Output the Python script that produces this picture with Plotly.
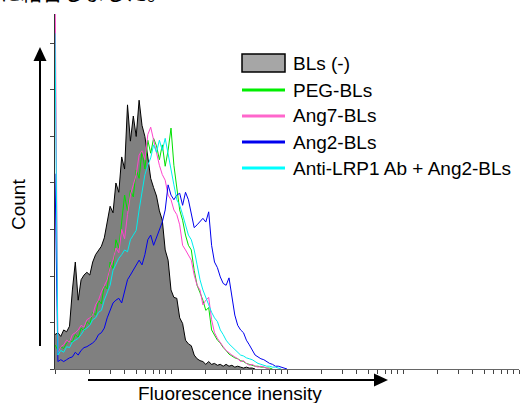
import numpy as np
import plotly.graph_objects as go

# flow cytometry histograms, 40 channels per decade on a 4-decade log scale
CHANNELS_PER_DECADE = 40

series_names = ["BLs (-)", "PEG-BLs", "Ang7-BLs", "Ang2-BLs", "Anti-LRP1 Ab + Ang2-BLs"]

bls_neg = [37, 39, 35, 42, 40, 46, 85, 115, 74, 96, 101, 104, 101, 115, 123, 128, 132, 141,
           158, 175, 168, 200, 190, 228, 215, 284, 245, 272, 250, 289, 262, 250, 228, 205,
           195, 186, 170, 160, 128, 117, 85, 77, 76, 55, 49, 31, 27, 25, 15, 11, 9, 8, 5, 8,
           5, 6, 4, 5, 3, 5, 3, 4, 2, 3, 2, 1, 2, 1, 1, 0]
peg_bls = [26, 20, 24, 22, 28, 31, 29, 37, 34, 44, 41, 51, 48, 61, 58, 74, 70, 90, 86, 115,
           108, 139, 130, 160, 187, 170, 192, 185, 214, 205, 235, 215, 246, 232, 248, 240, 225,
           241, 218, 235, 259, 219, 192, 171, 160, 144, 133, 128, 106, 90, 82, 74, 63, 66, 42,
           37, 31, 28, 23, 20, 16, 14, 12, 11, 9, 8, 6, 5, 4, 3, 3, 2, 2, 1, 1, 0]
ang7_bls = [420, 18, 24, 26, 31, 29, 37, 39, 42, 47, 45, 53, 55, 58, 69, 74, 83, 90, 96, 109,
            117, 130, 125, 150, 140, 166, 187, 198, 209, 230, 235, 225, 252, 260, 246, 235,
            219, 209, 203, 187, 182, 171, 166, 155, 133, 128, 123, 117, 101, 90, 85, 69, 74,
            77, 53, 39, 33, 28, 24, 20, 17, 15, 13, 11, 8, 9, 6, 4, 5, 3, 2, 3, 2, 1, 0]
ang2_bls = [210, 8, 10, 8, 10, 12, 13, 18, 15, 20, 23, 24, 26, 28, 31, 37, 39, 44, 55, 63, 71,
            74, 76, 71, 85, 96, 101, 106, 112, 117, 112, 123, 139, 144, 133, 141, 149, 158,
            171, 198, 187, 182, 187, 189, 176, 190, 182, 166, 152, 155, 158, 162, 158, 169,
            133, 115, 109, 99, 92, 90, 98, 77, 58, 47, 42, 39, 31, 26, 20, 15, 13, 11, 10, 8,
            6, 5, 3, 3, 2, 1, 0]
lrp1_ang2_bls = [361, 15, 20, 18, 24, 23, 29, 31, 33, 37, 42, 44, 47, 53, 55, 61, 63, 74, 83,
                 90, 106, 112, 119, 123, 128, 126, 139, 144, 149, 171, 192, 209, 219, 227, 241,
                 233, 246, 235, 248, 230, 214, 198, 182, 176, 166, 155, 144, 139, 128, 112, 96,
                 85, 76, 69, 61, 55, 51, 42, 37, 31, 27, 24, 20, 18, 15, 14, 12, 11, 10, 8, 6,
                 5, 4, 3, 3, 2, 2, 1, 0]

line_colors = ["#000000", "#00E000", "#FF44CC", "#0000EE", "#00EEEE"]
legend_colors = ["#A6A6A6", "#00EE00", "#FF66CC", "#0000EE", "#00FFFF"]

W, H = 523, 403
L, R, T, B = 55, 4, 14, 34
PW, PH = W - L - R, H - T - B
FONT = "Liberation Sans, Arial, sans-serif"


def px(x):
    return (x - L) / PW


def py(y):
    return (H - B - y) / PH


def channels(n):
    return 10 ** (np.arange(n) / CHANNELS_PER_DECADE)


fig = go.Figure()

fig.add_trace(go.Scatter(
    x=channels(len(bls_neg)), y=bls_neg, mode="lines", fill="tozeroy",
    fillcolor="#808080", line=dict(color="#000000", width=1), name=series_names[0],
))
for vals, name, col in zip([peg_bls, ang7_bls, ang2_bls, lrp1_ang2_bls], series_names[1:], line_colors[1:]):
    fig.add_trace(go.Scatter(
        x=channels(len(vals)), y=vals, mode="lines", line=dict(color=col, width=1), name=name,
    ))

shapes = []
annotations = []

# legend drawn by hand
row_y = [63, 90, 116, 142, 168]
shapes.append(dict(type="rect", xref="paper", yref="paper", x0=px(242), x1=px(285),
                   y0=py(72), y1=py(54), fillcolor=legend_colors[0],
                   line=dict(color="#000000", width=1.5)))
for yy, col in zip(row_y[1:], legend_colors[1:]):
    shapes.append(dict(type="line", xref="paper", yref="paper", x0=px(242), x1=px(285),
                       y0=py(yy), y1=py(yy), line=dict(color=col, width=3)))
for yy, name in zip(row_y, series_names):
    annotations.append(dict(xref="paper", yref="paper", x=px(291), y=py(yy), xanchor="left",
                            yanchor="middle", text=name, showarrow=False,
                            font=dict(family=FONT, size=19, color="#000000")))

# axis arrows
shapes.append(dict(type="line", xref="paper", yref="paper", x0=px(40), x1=px(40),
                   y0=py(346), y1=py(58), line=dict(color="#000000", width=2)))
shapes.append(dict(type="path", xref="paper", yref="paper",
                   path="M %f %f L %f %f L %f %f Z" % (px(40), py(47), px(33.5), py(61), px(46.5), py(61)),
                   fillcolor="#000000", line=dict(width=0)))
shapes.append(dict(type="line", xref="paper", yref="paper", x0=px(88), x1=px(376),
                   y0=py(380), y1=py(380), line=dict(color="#000000", width=2)))
shapes.append(dict(type="path", xref="paper", yref="paper",
                   path="M %f %f L %f %f L %f %f Z" % (px(388), py(380), px(374), py(373.5), px(374), py(386.5)),
                   fillcolor="#000000", line=dict(width=0)))

annotations.append(dict(xref="paper", yref="paper", x=px(19), y=py(205), xanchor="center",
                        yanchor="middle", text="Count", textangle=-90, showarrow=False,
                        font=dict(family=FONT, size=19, color="#000000")))
annotations.append(dict(xref="paper", yref="paper", x=px(230), y=py(394), xanchor="center",
                        yanchor="middle", text="Fluorescence inensity", showarrow=False,
                        font=dict(family=FONT, size=19, color="#000000")))
# caption line of the page above, cut off by the top edge as in the source
annotations.append(dict(xref="paper", yref="paper", x=px(-2), y=py(8), xanchor="left", yanchor="bottom",
                        text="に結合しました。", showarrow=False,
                        font=dict(family="Noto Sans CJK JP", size=21, color="#000000")))

fig.update_layout(
    width=W, height=H,
    margin=dict(l=L, r=R, t=T, b=B),
    paper_bgcolor="white", plot_bgcolor="white",
    showlegend=False,
    shapes=shapes, annotations=annotations,
    xaxis=dict(type="log", range=[0, 4], dtick="D1", showticklabels=False, ticks="outside",
               ticklen=4, tickcolor="#444444", showline=True, linecolor="#666666", linewidth=1,
               showgrid=False, zeroline=False, layer="below traces"),
    yaxis=dict(range=[0, 381.7], dtick=50, showticklabels=False, ticks="outside", ticklen=4,
               tickcolor="#444444", showline=True, linecolor="#333333", linewidth=1,
               showgrid=False, zeroline=False, layer="below traces"),
)

fig.write_html("out.html", config={"displayModeBar": False},
               post_script="document.body.style.margin = '0px';")
